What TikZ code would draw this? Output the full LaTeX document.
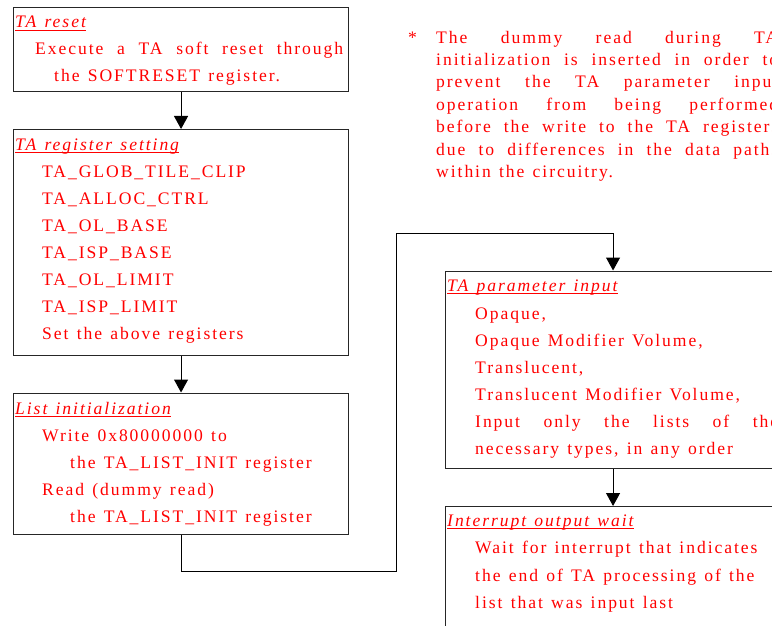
\documentclass[tikz,border=0pt]{standalone}
\usepackage{fontspec}
\setmainfont{Liberation Serif}[LetterSpace=11,WordSpace=1.3]
\usetikzlibrary{arrows.meta}
\definecolor{tred}{RGB}{255,0,0}
\begin{document}
\begin{tikzpicture}[x=1pt,y=-1pt,
  box/.style={draw=black!85,line width=1.1pt,inner sep=0pt,anchor=north west,minimum width=335pt},
  txt/.style={anchor=base west,inner sep=0pt,text=tred,font=\fontsize{17.6}{22}\selectfont},
  ttl/.style={txt,font=\fontsize{17.6}{22}\selectfont\itshape},
  uline/.style={draw=tred,line width=0.9pt},
  conn/.style={line width=1pt,black},
  arr/.style={conn,-{Triangle[width=14pt,length=13pt]}}]
\useasboundingbox (0,0) rectangle (772,626);
\clip (0,0) rectangle (772,626);
% boxes
\node[box,minimum height=84pt] (b1) at (13,7) {};
\node[box,minimum height=226pt] (b2) at (13,129) {};
\node[box,minimum height=141.5pt] (b3) at (13,392.5) {};
\node[box,minimum height=197.5pt] (b4) at (445,270.5) {};
\node[box,minimum height=160pt] (b5) at (445,506) {};
% connectors
\draw[arr] (b1.south) -- (b2.north);
\draw[arr] (b2.south) -- (b3.north);
\coordinate (k1) at (396,571);
\coordinate (k2) at (396,233);
\draw[arr] (b3.south) |- (k1) -- (k2) -| (b4.north);
\draw[arr] (b4.south) -- (b5.north);
% box 1
\node[ttl] (t1) at (15,28) {TA reset};
\draw[uline] ([yshift=-2.5pt]t1.base west) -- ([yshift=-2.5pt]t1.base east);
\node[txt] (l11) at (35,55) {\makebox[308pt][s]{Execute a TA soft reset through}};
\node[txt] (l12) at (54,82) {the SOFTRESET register.};
% box 2
\node[ttl] (t2) at (15,150) {TA register setting};
\draw[uline] ([yshift=-2.5pt]t2.base west) -- ([yshift=-2.5pt]t2.base east);
\node[txt] (l21) at (42,177) {TA\_GLOB\_TILE\_CLIP};
\node[txt] (l22) at (42,204) {TA\_ALLOC\_CTRL};
\node[txt] (l23) at (42,231) {TA\_OL\_BASE};
\node[txt] (l24) at (42,258) {TA\_ISP\_BASE};
\node[txt] (l25) at (42,285) {TA\_OL\_LIMIT};
\node[txt] (l26) at (42,312) {TA\_ISP\_LIMIT};
\node[txt] (l27) at (42,339) {Set the above registers};
% box 3
\node[ttl] (t3) at (15,414) {List initialization};
\draw[uline] ([yshift=-2.5pt]t3.base west) -- ([yshift=-2.5pt]t3.base east);
\node[txt] (l31) at (42,441) {Write 0x80000000 to};
\node[txt] (l32) at (70,468) {the TA\_LIST\_INIT register};
\node[txt] (l33) at (42,495) {Read (dummy read)};
\node[txt] (l34) at (70,522) {the TA\_LIST\_INIT register};
% box 4
\node[ttl] (t4) at (447,291) {TA parameter input};
\draw[uline] ([yshift=-2.5pt]t4.base west) -- ([yshift=-2.5pt]t4.base east);
\node[txt] (l41) at (475,319) {Opaque,};
\node[txt] (l42) at (475,346) {Opaque Modifier Volume,};
\node[txt] (l43) at (475,373) {Translucent,};
\node[txt] (l44) at (475,400) {Translucent Modifier Volume,};
\node[txt] (l45) at (475,427) {\makebox[303pt][s]{Input only the lists of the}};
\node[txt] (l46) at (475,454) {necessary types, in any order};
% box 5
\node[ttl] (t5) at (447,526) {Interrupt output wait};
\draw[uline] ([yshift=-2.5pt]t5.base west) -- ([yshift=-2.5pt]t5.base east);
\node[txt] (l51) at (475,553) {Wait for interrupt that indicates};
\node[txt] (l52) at (475,581) {the end of TA processing of the};
\node[txt] (l53) at (475,608) {list that was input last};
% note
\node[txt] (star) at (408,43.3) {*};
\node[txt] (n1) at (436,43.3) {\makebox[342pt][s]{The dummy read during TA}};
\node[txt] (n2) at (436,65.6) {\makebox[342pt][s]{initialization is inserted in order to}};
\node[txt] (n3) at (436,88) {\makebox[342pt][s]{prevent the TA parameter input}};
\node[txt] (n4) at (436,110.3) {\makebox[342pt][s]{operation from being performed}};
\node[txt] (n5) at (436,132.6) {\makebox[342pt][s]{before the write to the TA registers}};
\node[txt] (n6) at (436,155) {\makebox[342pt][s]{due to differences in the data paths}};
\node[txt] (n7) at (436,177.3) {within the circuitry.};
\end{tikzpicture}
\end{document}
